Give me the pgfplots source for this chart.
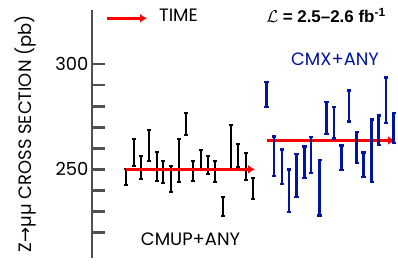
\documentclass[border=0pt]{standalone}
\usepackage{pgfplots}
\pgfplotsset{compat=1.18}
\usepackage{pgfplotstable}
\usepackage{fontspec}
\setmainfont{Poppins}
\newfontfamily\symfont{DejaVu Sans}
\newfontfamily\arialfont{Liberation Sans}
\usetikzlibrary{arrows.meta}
\definecolor{cdfblue}{RGB}{0,20,160}
\definecolor{axgray}{RGB}{80,80,80}
\definecolor{arrred}{RGB}{255,0,0}

\pgfplotstableread{
x y e
125.7 246.3 3.8
133.7 257.9 6.3
140.7 250.9 5.5
148.7 261.4 7.3
156.7 251.3 6.9
163.0 248.7 5.3
171.0 245.4 6.0
178.7 254.0 10.2
186.0 271.6 5.2
193.3 249.3 4.8
200.7 254.6 4.4
208.3 252.0 4.3
215.3 249.0 5.1
223.3 232.4 4.6
230.7 260.5 10.4
238.0 256.6 5.6
246.0 251.3 6.3
252.7 240.9 5.0
}\cmup

\pgfplotstableread{
x y e
266.3 285.6 5.9
274.0 256.2 9.3
282.0 251.2 8.2
289.0 239.9 10.1
296.7 247.2 10.2
304.3 253.4 7.4
311.0 256.9 8.5
319.7 241.2 13.1
326.3 274.5 7.6
334.0 272.2 7.5
341.3 255.5 5.9
349.0 280.1 7.3
356.7 260.3 7.3
363.3 252.1 5.8
371.7 258.8 14.8
378.7 268.5 7.0
386.0 282.9 10.8
393.7 269.6 7.1
}\cmx

\begin{document}
\begin{tikzpicture}
\useasboundingbox (0,0) rectangle (398bp,271bp);
\begin{axis}[
  at={(92bp,13bp)}, anchor=south west,
  x=1bp, y=2.106bp,
  xmin=92, xmax=398, ymin=207.9, ymax=325.6,
  axis y line=left, axis x line=none,
  axis line style={-, axgray, line width=2.8bp},
  ytick={220,230,240,250,260,270,280,290,300},
  yticklabels={{},{},{},250,{},{},{},{},300},
  tick align=inside,
  major tick length=13bp,
  ytick style={axgray, line width=2.8bp},
  yticklabel style={font=\fontsize{18}{18}\selectfont, text=black},
  clip=false,
]
\addplot[black, draw=none, mark=none,
  error bars/.cd, y dir=both, y explicit,
  error bar style={line width=2.2bp},
  error mark options={rotate=90, mark size=1.8bp, line width=2bp}]
  table[x=x, y=y, y error=e] {\cmup};
\addplot[arrred, line width=3bp, -{Latex[length=7bp,width=9bp]}] coordinates {(126,250) (255,250)};
\addplot[arrred, line width=3bp, -{Latex[length=7bp,width=9bp]}] coordinates {(267,263.7) (395,263.7)};
\addplot[cdfblue, draw=none, mark=none,
  error bars/.cd, y dir=both, y explicit,
  error bar style={line width=2.8bp},
  error mark options={rotate=90, mark size=2.2bp, line width=2.4bp}]
  table[x=x, y=y, y error=e] {\cmx};
\end{axis}
\draw[arrred, line width=3bp, -{Latex[length=7bp,width=9bp]}] (107bp,252.7bp) -- (147bp,252.7bp);
\node[anchor=base, inner sep=0] at (178.5bp,249.3bp) {\fontsize{18}{18}\selectfont TIME};
\node[anchor=base, inner sep=0] at (326bp,248.3bp) {\fontsize{17}{17}\selectfont $\mathcal{L}$ {\arialfont\bfseries = 2.5–2.6 fb\textsuperscript{-1}}};
\node[anchor=base, inner sep=0, text=cdfblue] at (335bp,205.3bp) {\fontsize{18}{18}\selectfont CMX+ANY};
\node[anchor=base, inner sep=0] at (190.5bp,26bp) {\fontsize{18}{18}\selectfont CMUP+ANY};
\node[rotate=90, inner sep=0] at (25.5bp,137.5bp) {\fontsize{18}{18}\selectfont Z{\symfont→}\textmu\textmu{} CROSS SECTION (pb)};
\end{tikzpicture}
\end{document}
